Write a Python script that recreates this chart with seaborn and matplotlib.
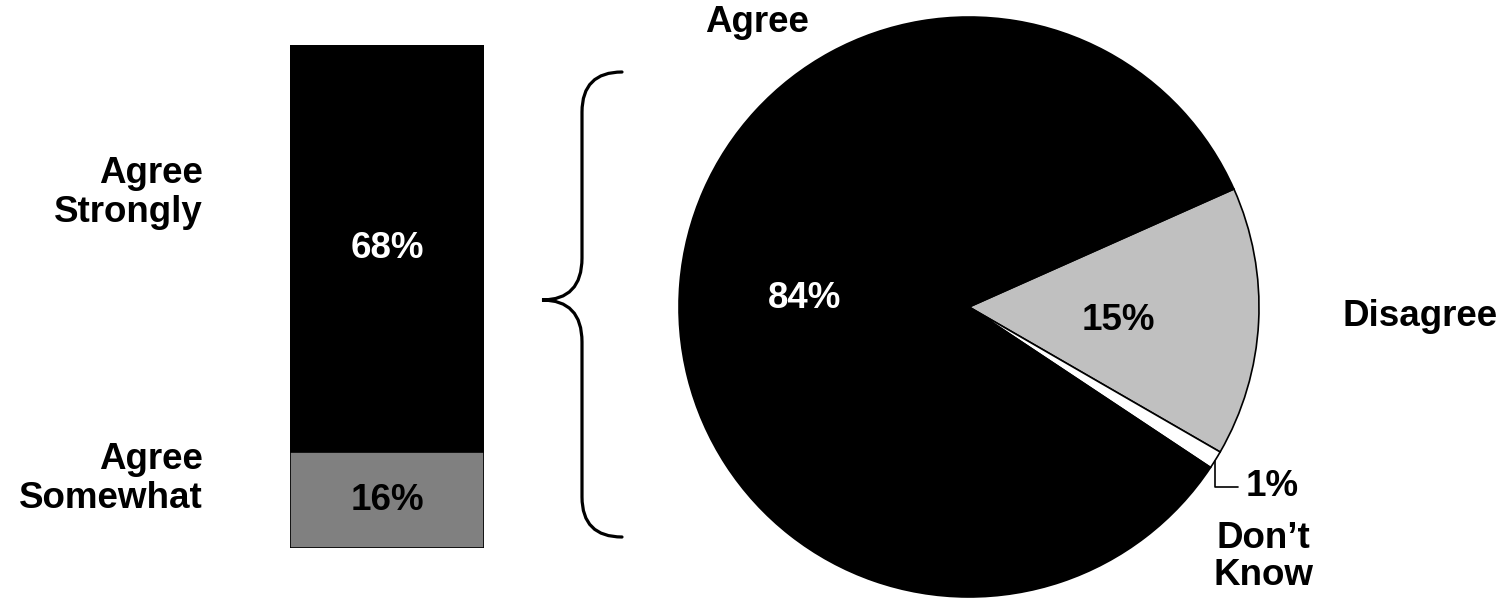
import numpy as np
import pandas as pd
import seaborn as sns
import matplotlib.pyplot as plt
from matplotlib.path import Path
from matplotlib.patches import PathPatch

# data
bar_labels = ["Agree\nStrongly", "Agree\nSomewhat"]
bar_values = [68, 16]
bar_colors = ["#000000", "#808080"]

pie_labels = ["Disagree", "Don\u2019t\nKnow", "Agree"]
pie_values = [15, 1, 84]
pie_colors = ["#C0C0C0", "#FFFFFF", "#000000"]

sns.set_theme(style="white")
plt.rcParams["font.family"] = ["Liberation Sans", "DejaVu Sans"]
plt.rcParams["font.weight"] = "bold"
plt.rcParams["text.color"] = "black"
FS = 26.5

W, H = 1505, 599
fig = plt.figure(figsize=(W / 100, H / 100), dpi=100)

# ---- stacked bar (left) ----
axb = fig.add_axes([290 / W, (H - 548) / H, 194 / W, 503 / H])
total = sum(bar_values)
df_top = pd.DataFrame({"grp": ["all"], "val": [total]})
df_bot = pd.DataFrame({"grp": ["all"], "val": [bar_values[1]]})
sns.barplot(data=df_top, x="grp", y="val", color=bar_colors[0], width=1,
            saturation=1, edgecolor="black", linewidth=1.2, ax=axb)
sns.barplot(data=df_bot, x="grp", y="val", color=bar_colors[1], width=1,
            saturation=1, edgecolor="black", linewidth=1.2, ax=axb)
axb.set_xlim(-0.5, 0.5)
axb.set_ylim(0, total)
axb.axis("off")

axb.text(0, bar_values[1] + bar_values[0] / 2, f"{bar_values[0]}%", color="white",
         ha="center", va="center", fontsize=FS, fontweight="bold")
axb.text(0, bar_values[1] / 2, f"{bar_values[1]}%", color="black",
         ha="center", va="center", fontsize=FS, fontweight="bold")
axb.text(-0.45, 0.706, bar_labels[0], transform=axb.transAxes, ha="right", va="center",
         fontsize=FS, fontweight="bold", linespacing=1.15)
axb.text(-0.45, 0.137, bar_labels[1], transform=axb.transAxes, ha="right", va="center",
         fontsize=FS, fontweight="bold", linespacing=1.15)

# ---- pie (right) ----
cx, cy, r = 969, 307, 290
axp = fig.add_axes([(cx - r) / W, (H - cy - r) / H, 2 * r / W, 2 * r / H])
wedges, _ = axp.pie(pie_values, colors=pie_colors, startangle=24, counterclock=False,
                    wedgeprops=dict(edgecolor="black", linewidth=1.2))
axp.set_xlim(-1, 1)
axp.set_ylim(-1, 1)
axp.axis("off")

axp.text(-0.566, 0.03, f"{pie_values[2]}%", color="white", ha="center", va="center",
         fontsize=FS, fontweight="bold")
axp.text(0.514, -0.045, f"{pie_values[0]}%", color="black", ha="center", va="center",
         fontsize=FS, fontweight="bold")
axp.text(-0.731, 0.98, pie_labels[2], ha="center", va="center", fontsize=FS, fontweight="bold")
axp.text(1.555, -0.034, pie_labels[0], ha="center", va="center", fontsize=FS, fontweight="bold")
axp.text(1.014, -0.862, pie_labels[1], ha="center", va="center", fontsize=FS,
         fontweight="bold", linespacing=1.1)

# leader for the 1% slice
w = wedges[1]
mid = np.deg2rad((w.theta1 + w.theta2) / 2)
axp.annotate(f"{pie_values[1]}%", xy=(np.cos(mid), np.sin(mid)), xytext=(1.045, -0.62),
             ha="center", va="center", fontsize=FS, fontweight="bold",
             arrowprops=dict(arrowstyle="-", color="black", lw=1.2, shrinkA=3, shrinkB=1,
                             connectionstyle="angle,angleA=0,angleB=90,rad=0"))

# ---- brace ----
axo = fig.add_axes([0, 0, 1, 1], facecolor="none")
axo.set_xlim(0, W)
axo.set_ylim(H, 0)
axo.axis("off")
verts = [(622, 72), (582, 72), (582, 112), (582, 258), (582, 300), (542, 300),
         (582, 300), (582, 342), (582, 497), (582, 537), (622, 537)]
codes = [Path.MOVETO, Path.CURVE3, Path.CURVE3, Path.LINETO, Path.CURVE3, Path.CURVE3,
         Path.CURVE3, Path.CURVE3, Path.LINETO, Path.CURVE3, Path.CURVE3]
axo.add_patch(PathPatch(Path(verts, codes), fill=False, edgecolor="black", lw=2.3,
                        capstyle="round"))

fig.savefig("out.png", dpi=100, facecolor="white")
